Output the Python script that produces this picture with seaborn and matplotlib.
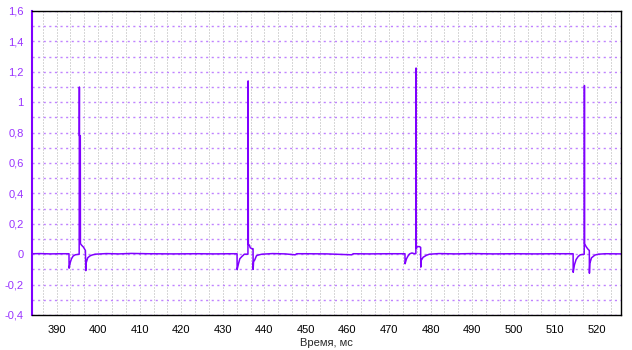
import numpy as np
import pandas as pd
import seaborn as sns
import matplotlib
matplotlib.use("Agg")
import matplotlib.pyplot as plt
from matplotlib.ticker import MultipleLocator, FuncFormatter

# ---- data ----
X_START, X_END = 384.1, 525.8

# spike times (ms)
PULSE_T = [395.5, 436.1, 476.5, 517.0]

# per-pulse shape: offsets from spike time (ms) and values
P1_DT = [-2.50, -2.48, -2.2, -1.9, -1.5, -1.0, -0.05, 0.0, 0.0, 0.22, 0.25, 0.5, 1.0, 1.45, 1.54, 1.6, 2.0, 2.5, 3.0, 3.8]
P1_V  = [0.003, -0.092, -0.055, -0.03, -0.012, -0.004, 0.0, 1.10, 0.78, 0.78, 0.07, 0.06, 0.046, 0.024, -0.108, -0.06, -0.024, -0.012, -0.006, 0.0]

P2_DT = [-2.67, -2.65, -2.3, -2.0, -1.5, -0.9, -0.05, 0.0, 0.05, 0.3, 0.5, 1.0, 1.18, 1.2, 1.3, 1.6, 2.0, 2.5, 3.3]
P2_V  = [0.003, -0.101, -0.06, -0.03, -0.015, 0.0, 0.0, 1.14, 0.064, 0.06, 0.042, 0.036, 0.036, -0.10, -0.05, -0.037, -0.01, -0.005, 0.0]

P3_DT = [-2.67, -2.65, -2.3, -1.9, -1.5, -1.0, -0.5, -0.05, 0.0, 0.05, 0.4, 0.8, 1.1, 1.13, 1.25, 1.7, 2.5, 3.2]
P3_V  = [0.003, -0.063, -0.03, -0.01, 0.003, 0.008, 0.004, 0.004, 1.225, 0.042, 0.05, 0.05, 0.045, -0.085, -0.04, -0.02, -0.007, 0.0]

P4_DT = [-2.72, -2.7, -2.4, -2.0, -1.5, -1.0, -0.05, 0.0, 0.05, 0.4, 0.8, 1.18, 1.2, 1.3, 1.7, 2.5, 3.3]
P4_V  = [0.003, -0.119, -0.07, -0.035, -0.015, -0.004, 0.0, 1.11, 0.069, 0.05, 0.035, 0.024, -0.125, -0.06, -0.024, -0.006, 0.0]

# baseline points between pulses (time, value)
BASE_T = [384.1, 386.0, 388.5, 391.0, 402.0, 405.0, 408.0, 412.0, 418.0, 424.0, 428.0, 432.0,
          442.0, 445.0, 447.4, 447.8, 450.0, 455.0, 461.0, 461.4, 465.0, 470.0,
          482.0, 486.0, 490.0, 495.0, 500.0, 505.0, 510.0,
          522.0, 525.8]
BASE_V = [0.003, 0.004, 0.002, 0.003, 0.004, 0.002, 0.005, 0.003, 0.002, 0.003, 0.002, 0.003,
          0.004, 0.002, -0.004, 0.003, 0.003, 0.002, -0.004, 0.003, 0.002, 0.003,
          0.004, 0.002, 0.004, 0.002, 0.003, 0.002, 0.003,
          0.003, 0.002]

Y_MIN, Y_MAX = -0.4, 1.6
X_LABEL = "Время, мс"

# ---- assemble trace ----
ts, vs = [], []
for t, v in zip(BASE_T, BASE_V):
    ts.append(t); vs.append(v)
for t0, dts, vals in zip(PULSE_T, [P1_DT, P2_DT, P3_DT, P4_DT], [P1_V, P2_V, P3_V, P4_V]):
    for dt, v in zip(dts, vals):
        ts.append(t0 + dt); vs.append(v)
order = np.argsort(np.array(ts), kind="stable")
df = pd.DataFrame({"t": np.array(ts)[order], "v": np.array(vs)[order]})

# ---- style ----
sns.set_style("white")
plt.rcParams["font.family"] = ["Liberation Sans", "DejaVu Sans"]
plt.rcParams["font.size"] = 8

LINE_C = "#7f00ff"
YLAB_C = "#9933ff"
HGRID_C = "#c083ff"
VGRID_C = "#b0b0b0"
PX = 0.72  # one pixel in points at 100 dpi

fig = plt.figure(figsize=(6.32, 3.5), dpi=100)
ax = fig.add_axes([32 / 632, 35 / 350, 589 / 632, 304 / 350])

sns.lineplot(data=df, x="t", y="v", ax=ax, sort=False, estimator=None,
             color=LINE_C, linewidth=1.1)

ax.set_xlim(X_START, X_END)
ax.set_ylim(Y_MIN, Y_MAX)

ax.xaxis.set_major_locator(MultipleLocator(10))
ax.xaxis.set_minor_locator(MultipleLocator(10 / 3))
ax.yaxis.set_major_locator(MultipleLocator(0.2))
ax.yaxis.set_minor_locator(MultipleLocator(0.1))

def yfmt(v, pos):
    if abs(v) < 1e-9:
        return "0"
    return f"{v:g}".replace(".", ",")

ax.yaxis.set_major_formatter(FuncFormatter(yfmt))

ax.grid(False)
ax.grid(which="both", axis="x", color=VGRID_C, linestyle=(0, (1, 2)), linewidth=PX)
ax.grid(which="both", axis="y", color=HGRID_C, linestyle=(0, (1.5, 2.5)), linewidth=PX * 1.4)
ax.set_axisbelow(True)

ax.tick_params(axis="x", which="major", direction="out", length=4, width=1, color="black",
               labelcolor="black", labelsize=8, pad=3)
ax.tick_params(axis="x", which="minor", direction="out", length=3, width=1, color="black")
ax.tick_params(axis="y", which="major", direction="out", length=4, width=1, color=LINE_C,
               labelcolor=YLAB_C, labelsize=8, pad=2)
ax.tick_params(axis="y", which="minor", direction="in", length=4, width=1, color=LINE_C)

for side in ["top", "right", "bottom"]:
    ax.spines[side].set_color("black")
    ax.spines[side].set_linewidth(1.0)
ax.spines["left"].set_color(LINE_C)
ax.spines["left"].set_linewidth(1.5)

ax.set_xlabel(X_LABEL, fontsize=8, labelpad=2)
ax.set_ylabel("")

fig.savefig("out.png", dpi=100)
